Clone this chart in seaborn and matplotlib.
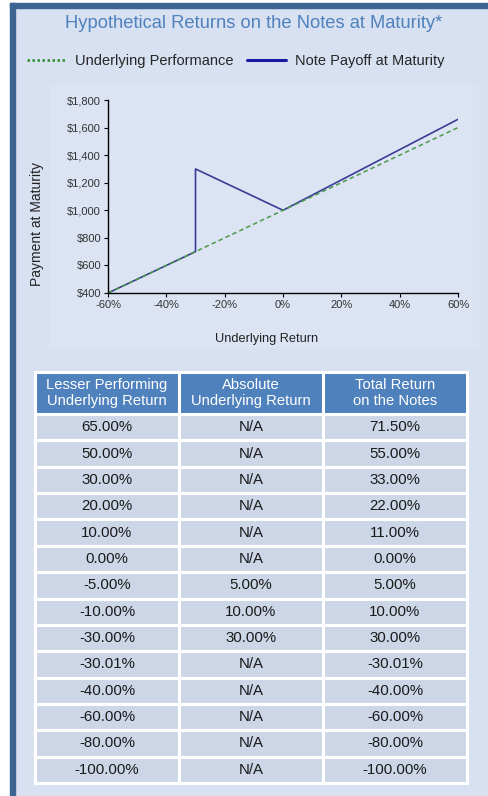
import matplotlib
matplotlib.use("Agg")
import matplotlib.pyplot as plt
import seaborn as sns
import pandas as pd
from matplotlib.patches import Rectangle
from matplotlib.lines import Line2D
from matplotlib.ticker import FuncFormatter

# chart data
chart_x = [-60, -30, -30, 0, 60]
note_payoff = [400, 700, 1300, 1000, 1660]
under_x = [-60, 60]
under_perf = [400, 1600]

# table data
col_labels = ["Lesser Performing\nUnderlying Return", "Absolute\nUnderlying Return", "Total Return\non the Notes"]
lesser_ret = [65.00, 50.00, 30.00, 20.00, 10.00, 0.00, -5.00, -10.00, -30.00, -30.01, -40.00, -60.00, -80.00, -100.00]
absolute_ret = [None, None, None, None, None, None, 5.00, 10.00, 30.00, None, None, None, None, None]
total_ret = [71.50, 55.00, 33.00, 22.00, 11.00, 0.00, 5.00, 10.00, 30.00, -30.01, -40.00, -60.00, -80.00, -100.00]

BG = "#d8e1f1"
FRAME = "#3d6593"
TITLE_BLUE = "#4f81bd"
CELL = "#ccd6e7"

sns.set_style("white")
plt.rcParams["font.family"] = ["Liberation Sans", "DejaVu Sans"]

W, H = 489, 796
fig = plt.figure(figsize=(W / 100, H / 100), dpi=100, facecolor=BG)


def px(x, y, w, h):
    # pixel box (top-left origin) -> figure fraction
    return [x / W, 1 - (y + h) / H, w / W, h / H]


# outer frame: white margin, dark blue top/left bars
fig.patches.append(Rectangle((0, 0), 10 / W, 1, transform=fig.transFigure, color="white", zorder=-3))
fig.patches.append(Rectangle((0, 1 - 3 / H), 1, 3 / H, transform=fig.transFigure, color="white", zorder=-3))
fig.patches.append(Rectangle((10 / W, 0), 5 / W, 1 - 3 / H, transform=fig.transFigure, color=FRAME, zorder=-2))
fig.patches.append(Rectangle((10 / W, 1 - 8 / H), 1, 5 / H, transform=fig.transFigure, color=FRAME, zorder=-2))
# slightly lighter plot panel
b = px(50, 85, 428, 262)
fig.patches.append(Rectangle((b[0], b[1]), b[2], b[3], transform=fig.transFigure, color="#dce4f3", zorder=-1))

fig.text(254 / W, 1 - 24 / H, "Hypothetical Returns on the Notes at Maturity*", ha="center", va="center",
         fontsize=13.2, color=TITLE_BLUE)

# line chart
ax = fig.add_axes(px(108, 100, 350, 193))
ax.set_facecolor("none")
under_df = pd.DataFrame({"ret": under_x, "pay": under_perf})
note_df = pd.DataFrame({"ret": chart_x, "pay": note_payoff})
sns.lineplot(data=note_df, x="ret", y="pay", estimator=None, sort=False, ax=ax,
             color="#3b3b95", linewidth=1.2, label="Note Payoff at Maturity")
sns.lineplot(data=under_df, x="ret", y="pay", estimator=None, sort=False, ax=ax,
             color="#4a9a4a", linewidth=1.1, linestyle=(0, (3, 2)), label="Underlying Performance")
ax.set_xlim(-60, 60)
ax.set_ylim(400, 1800)
ax.set_xticks([-60, -40, -20, 0, 20, 40, 60])
ax.set_yticks(range(400, 1801, 200))
ax.xaxis.set_major_formatter(FuncFormatter(lambda v, p: f"{v:.0f}%"))
ax.yaxis.set_major_formatter(FuncFormatter(lambda v, p: f"${v:,.0f}"))
ax.tick_params(axis="both", labelsize=8, colors="black", labelcolor="#333333", length=3, width=0.8,
               direction="out", pad=2, left=True, bottom=True)
sns.despine(ax=ax)
for s in ["left", "bottom"]:
    ax.spines[s].set_color("black")
    ax.spines[s].set_linewidth(1.0)
ax.set_xlabel("")
ax.set_ylabel("")
ax.get_legend().remove()
fig.text(37 / W, 1 - 224 / H, "Payment at Maturity", rotation=90, ha="center", va="center", fontsize=10, color="#222222")
fig.text(267 / W, 1 - 339 / H, "Underlying Return", ha="center", va="center", fontsize=9.2, color="#222222")

# legend
leg_under = Line2D([], [], color="#2e8b2e", linestyle=(0, (1, 1)), linewidth=1.8)
leg_note = Line2D([], [], color="#1a1aa0", linewidth=2.2)
fig.legend([leg_under, leg_note], ["Underlying Performance", "Note Payoff at Maturity"],
           loc="center", bbox_to_anchor=(236 / W, 1 - 61 / H), ncol=2, frameon=False, fontsize=10.5,
           handlelength=2.7, handletextpad=0.6, columnspacing=0.9)

# table
tax = fig.add_axes(px(35, 372, 432, 411))
tax.axis("off")


def pct(v):
    return "N/A" if v is None else f"{v:.2f}%"


cells = [[pct(a), pct(b), pct(c)] for a, b, c in zip(lesser_ret, absolute_ret, total_ret)]
tbl = tax.table(cellText=cells, colLabels=col_labels, cellLoc="center", bbox=[0, 0, 1, 1])
tbl.auto_set_font_size(False)
row_h = 1.0 / 15
for (r, c), cell in tbl.get_celld().items():
    cell.set_edgecolor("white")
    cell.set_linewidth(2.2)
    if r == 0:
        cell.set_height(row_h * 42 / 26.3)
        cell.set_facecolor(TITLE_BLUE)
        cell.get_text().set_color("white")
        cell.get_text().set_fontsize(10.6)
        cell.get_text().set_linespacing(1.25)
    else:
        cell.set_height(row_h)
        cell.set_facecolor(CELL)
        cell.get_text().set_color("#1a1a1a")
        cell.get_text().set_fontsize(10.8)

fig.savefig("out.png", dpi=100, facecolor=BG)
